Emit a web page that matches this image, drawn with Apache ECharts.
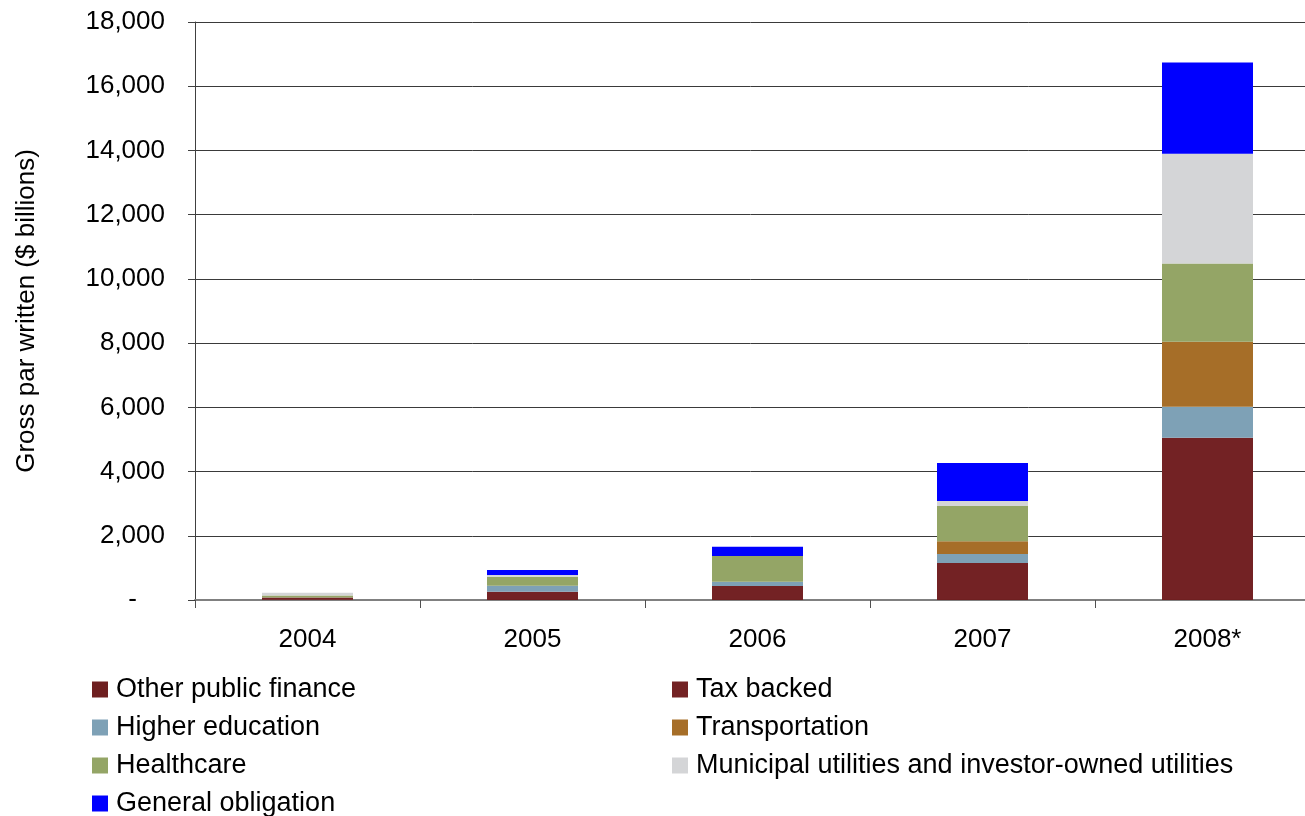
<!DOCTYPE html>
<html>
<head>
<meta charset="utf-8">
<script src="https://cdn.jsdelivr.net/npm/echarts@6/dist/echarts.min.js"></script>
<style>
  html, body { margin: 0; padding: 0; background: #fff; }
  #chart { width: 1305px; height: 816px; }
</style>
</head>
<body>
<div id="chart"></div>
<script>
// Gross par written by sector, $ billions
const years = ['2004', '2005', '2006', '2007', '2008*'];
const otherPublicFinance = [20, 30, 30, 30, 30];
const taxBacked = [55, 230, 405, 1120, 5020];
const higherEducation = [0, 185, 135, 280, 970];
const transportation = [0, 0, 0, 400, 2020];
const healthcare = [65, 280, 800, 1100, 2440];
const utilities = [85, 55, 0, 150, 3420];
const generalObligation = [0, 155, 290, 1190, 2840];
const yTicks = [0, 2000, 4000, 6000, 8000, 10000, 12000, 14000, 16000, 18000];

const FONT = 'Liberation Sans, Arial, sans-serif';
const FS = 26;
const LEGEND_FS = 27;

const seriesDefs = [
  { name: 'Other public finance', data: otherPublicFinance, color: '#6e1f20' },
  { name: 'Tax backed', data: taxBacked, color: '#732224' },
  { name: 'Higher education', data: higherEducation, color: '#7ea1b6' },
  { name: 'Transportation', data: transportation, color: '#a66e28' },
  { name: 'Healthcare', data: healthcare, color: '#94a566' },
  { name: 'Municipal utilities and investor-owned utilities', data: utilities, color: '#d4d5d7' },
  { name: 'General obligation', data: generalObligation, color: '#0000ff' }
];

const chart = echarts.init(document.getElementById('chart'), null, { renderer: 'canvas' });

const legendCommon = {
  orient: 'vertical',
  top: 676,
  height: 160,
  padding: 0,
  itemWidth: 16,
  itemHeight: 16,
  itemGap: 11,
  icon: 'rect',
  textStyle: { fontFamily: FONT, fontSize: LEGEND_FS, color: '#000', padding: [0, 0, 0, 3] }
};

chart.setOption({
  animation: false,
  textStyle: { fontFamily: FONT },
  grid: { left: 195, top: 22, height: 578, width: 1125, outerBoundsMode: 'none', containLabel: false },
  legend: [
    Object.assign({}, legendCommon, {
      left: 92,
      data: ['Other public finance', 'Higher education', 'Healthcare', 'General obligation']
    }),
    Object.assign({}, legendCommon, {
      left: 672,
      data: ['Tax backed', 'Transportation', 'Municipal utilities and investor-owned utilities']
    })
  ],
  xAxis: {
    type: 'category',
    data: years,
    boundaryGap: true,
    axisLine: { lineStyle: { color: '#808080', width: 2 } },
    axisTick: { show: true, interval: 0, length: 8, lineStyle: { color: '#505050', width: 1 } },
    axisLabel: { fontFamily: FONT, fontSize: FS, color: '#000', margin: 27 }
  },
  yAxis: {
    type: 'value',
    min: yTicks[0],
    max: yTicks[yTicks.length - 1],
    interval: yTicks[1] - yTicks[0],
    name: 'Gross par written ($ billions)',
    nameLocation: 'middle',
    nameGap: 155,
    nameRotate: 90,
    nameTextStyle: { fontFamily: FONT, fontSize: FS, color: '#000' },
    axisLine: { show: true, lineStyle: { color: '#404040', width: 1 } },
    axisTick: { show: true, inside: false, length: 7, lineStyle: { color: '#404040' } },
    splitLine: { show: true, lineStyle: { color: '#3a3a3a', width: 1 } },
    axisLabel: {
      fontFamily: FONT, fontSize: FS, color: '#000', margin: 30,
      formatter: v => v === 0 ? '{z|-}' : v.toLocaleString('en-US'),
      rich: { z: { fontFamily: FONT, fontSize: FS, color: '#000', padding: [0, 28, 0, 0] } }
    }
  },
  series: seriesDefs.map(s => ({
    name: s.name,
    type: 'bar',
    stack: 'total',
    data: s.data,
    barWidth: 91,
    itemStyle: { color: s.color }
  }))
});
</script>
</body>
</html>
